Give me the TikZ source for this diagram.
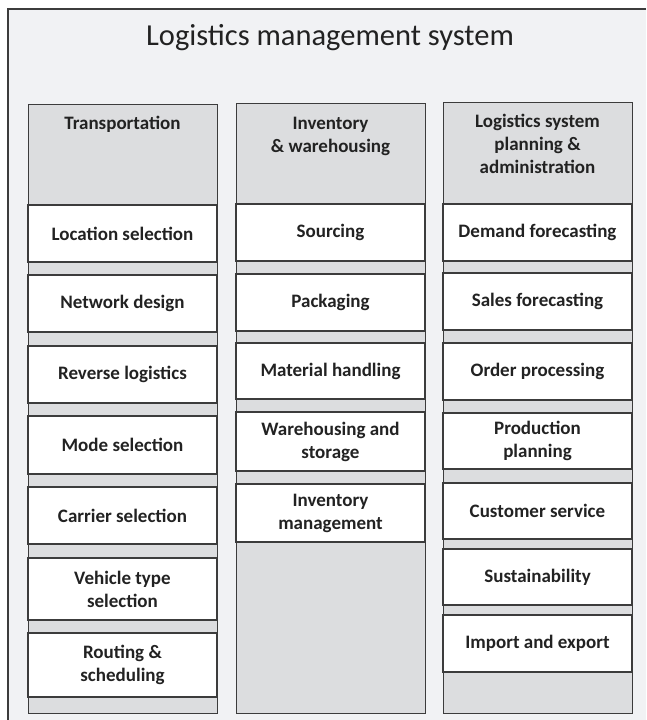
\documentclass[tikz,border=0pt]{standalone}
\usepackage{fontspec}
\setmainfont{Carlito}
\usetikzlibrary{positioning}

\definecolor{paneback}{HTML}{F1F2F4}
\definecolor{colfill}{HTML}{DCDDDF}
\definecolor{edgegray}{HTML}{3C3C3C}
\definecolor{inkgray}{HTML}{222222}

\begin{document}
\begin{tikzpicture}[x=1pt,y=-1pt,line width=1.2pt,
                    every node/.style={text=inkgray,inner sep=0pt,align=center},
                    boxfont/.style={font=\bfseries\fontsize{19}{23}\selectfont}]
  \tikzstyle{column}=[draw=edgegray,fill=colfill,anchor=north west,
                      minimum width=189pt]
  \tikzstyle{item}=[boxfont,draw=edgegray,fill=white,minimum width=189pt]
  \tikzstyle{head}=[boxfont,anchor=base]

  \useasboundingbox (0,0) rectangle (646,720);

  % outer frame, only its top and left edges fall on the page
  \fill[paneback] (8,9) rectangle (646,720);
  \draw[edgegray] (646,9) -- (8,9) -- (8,720);
  \node[anchor=base,font=\fontsize{30.5}{34}\selectfont] (title) at (330,45)
    {Logistics management system};

  % the three columns
  \node[column,minimum height=609pt] (transp) at (28,104) {};
  \node[column,minimum height=610pt] (invent) at (236,103) {};
  \node[column,minimum height=611pt] (plan)   at (443,102) {};

  % base is the last line of each heading
  \node[head] (transphead) at (122.5,129) {Transportation};
  \node[head] (inventhead) at (330.5,152) {Inventory\\\& warehousing};
  \node[head] (planhead)   at (537.5,173)
    {Logistics system\\planning \&\\administration};

  % transportation
  \foreach \n/\t/\b/\txt in {loc/205/262/Location selection,
                             net/275/332/Network design,
                             rev/346/403/Reverse logistics,
                             mode/416/474/Mode selection,
                             carr/487/544/Carrier selection,
                             veh/558/620/Vehicle type\\selection,
                             rout/633/697/Routing \&\\scheduling}
    \node[item,minimum height={\b-\t}] (\n) at (122.5,{(\t+\b)/2}) {\txt};

  % inventory and warehousing
  \foreach \n/\t/\b/\txt in {src/204/261/Sourcing,
                             pack/274/331/Packaging,
                             mat/343/399/Material handling,
                             ware/412/471/Warehousing and\\storage,
                             invm/484/542/Inventory\\management}
    \node[item,minimum height={\b-\t}] (\n) at (330.5,{(\t+\b)/2}) {\txt};

  % planning and administration
  \foreach \n/\t/\b/\txt in {dem/204/261/Demand forecasting,
                             sales/273/330/Sales forecasting,
                             ord/343/400/Order processing,
                             prod/413/469/Production\\planning,
                             cust/483/539/Customer service,
                             sust/549/605/Sustainability,
                             imp/615/672/Import and export}
    \node[item,minimum height={\b-\t}] (\n) at (537.5,{(\t+\b)/2}) {\txt};

\end{tikzpicture}
\end{document}
